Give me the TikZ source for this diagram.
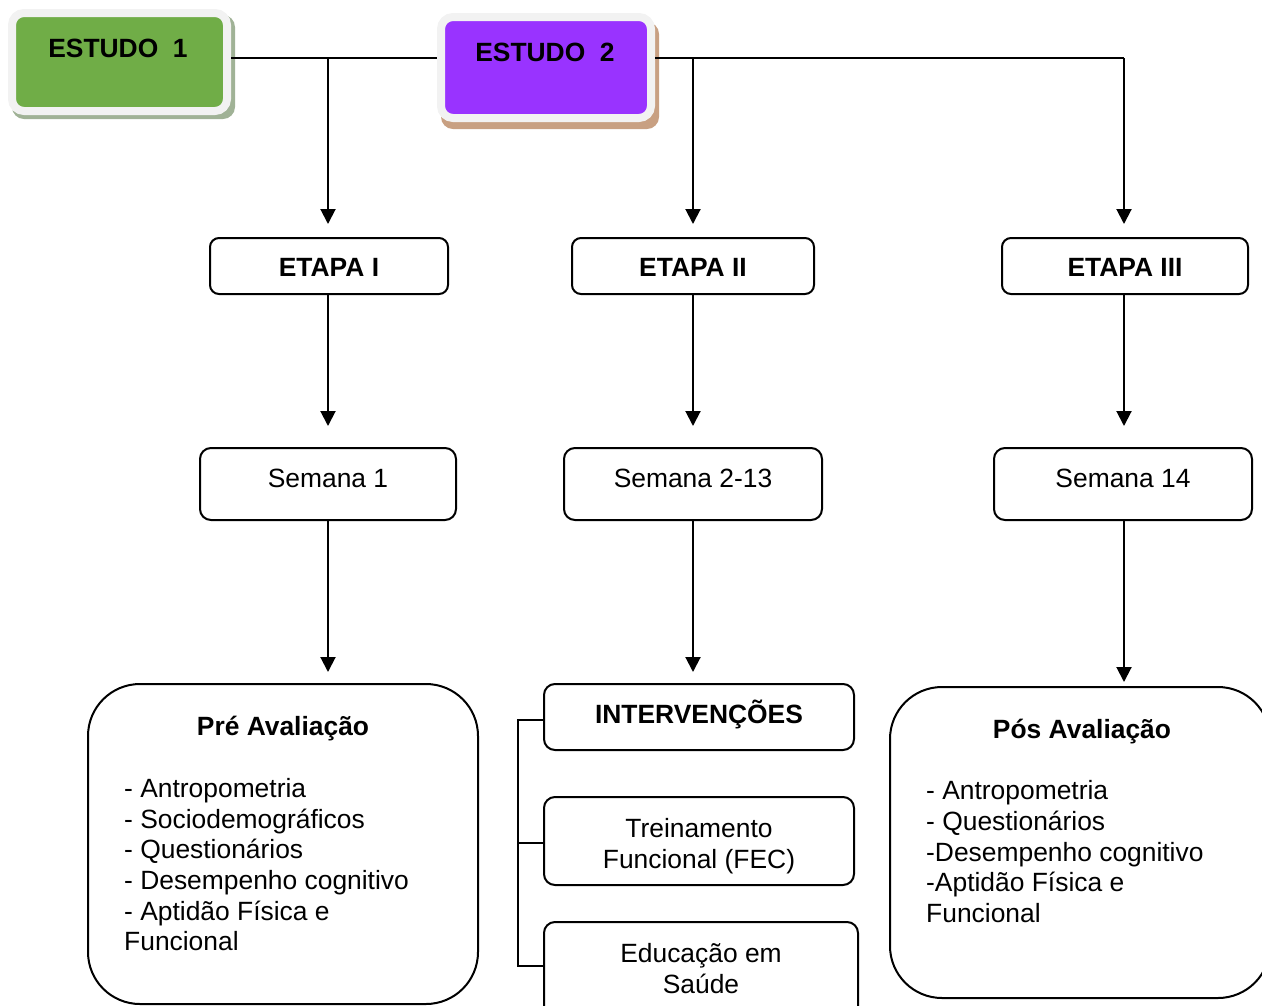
\documentclass[tikz,border=0pt]{standalone}
\usepackage{fontspec}
\setmainfont{Liberation Sans}
\usetikzlibrary{arrows.meta}
\definecolor{estgreen}{RGB}{112,173,71}
\definecolor{estpurple}{RGB}{153,51,255}
\definecolor{shgreen}{RGB}{160,178,150}
\definecolor{shtan}{RGB}{200,160,130}
\definecolor{rimgray}{RGB}{242,242,242}
\tikzset{
  txt/.style={font=\fontsize{26.4}{30.6}\selectfont, inner sep=0pt, anchor=base},
  btxt/.style={txt, font=\fontsize{26.4}{30.6}\selectfont\bfseries},
  ltxt/.style={txt, anchor=base west},
  boxA/.style={draw, line width=2pt, rounded corners=9pt, fill=white},
  boxB/.style={draw, line width=2pt, rounded corners=11pt, fill=white},
  bigbox/.style={draw, line width=2pt, rounded corners=52pt},
  estudo/.style={draw=rimgray, line width=8pt, rounded corners=12pt},
  conn/.style={line width=2pt},
  arr/.style={line width=2pt, -{Triangle[width=15pt,length=15pt]}},
}
\begin{document}
\begin{tikzpicture}[x=1pt,y=-1pt]
\useasboundingbox (0,0) rectangle (1262,1005);
\clip (0,0) rectangle (1262,1005);
% ESTUDO boxes with shadows
\fill[shgreen, rounded corners=12pt] (12,15) rectangle (235,119);
\node[estudo, fill=estgreen, minimum width=215pt, minimum height=98pt] (e1) at (119.5,62) {};
\node[btxt] at (118,57) {ESTUDO\ \ 1};
\fill[shtan, rounded corners=12pt] (441,22) rectangle (659,129);
\node[estudo, fill=estpurple, minimum width=210pt, minimum height=101pt] (e2) at (546,67.5) {};
\node[btxt] at (545,61) {ESTUDO\ \ 2};
% junctions
\coordinate (j1) at (328,58);
\coordinate (j2) at (693,58);
\coordinate (j3) at (1124,58);
% ETAPA boxes
\node[boxA, minimum width=238pt, minimum height=56pt] (t1) at (329,266) {};
\node[btxt] at (329,276) {ETAPA I};
\node[boxA, minimum width=242pt, minimum height=56pt] (t2) at (693,266) {};
\node[btxt] at (693,276) {ETAPA II};
\node[boxA, minimum width=246pt, minimum height=56pt] (t3) at (1125,266) {};
\node[btxt] at (1125,276) {ETAPA III};
% Semana boxes
\node[boxB, minimum width=256pt, minimum height=72pt] (s1) at (328,484) {};
\node[txt] at (328,487) {Semana 1};
\node[boxB, minimum width=258pt, minimum height=72pt] (s2) at (693,484) {};
\node[txt] at (693,487) {Semana 2-13};
\node[boxB, minimum width=258pt, minimum height=72pt] (s3) at (1123,484) {};
\node[txt] at (1123,487) {Semana 14};
% Bottom boxes
\node[bigbox, minimum width=390pt, minimum height=320pt] (pre) at (283,844) {};
\node[btxt] at (283,735) {Pré Avaliação};
\node[ltxt] at (124,797) {- Antropometria};
\node[ltxt] at (124,828) {- Sociodemográficos};
\node[ltxt] at (124,858) {- Questionários};
\node[ltxt] at (124,889) {- Desempenho cognitivo};
\node[ltxt] at (124,920) {- Aptidão Física e};
\node[ltxt] at (124,950) {Funcional};
\node[boxB, minimum width=310pt, minimum height=66pt] (iv) at (699,717) {};
\node[btxt] at (699,723) {INTERVENÇÕES};
\node[boxB, minimum width=310pt, minimum height=88pt] (tf) at (699,841) {};
\node[txt] at (699,837) {Treinamento};
\node[txt] at (699,868) {Funcional (FEC)};
\node[boxB, minimum width=314pt, minimum height=100pt] (ed) at (701,972) {};
\node[txt] at (701,962) {Educação em};
\node[txt] at (701,993) {Saúde};
\node[bigbox, minimum width=380pt, minimum height=311pt] (pos) at (1080,842.5) {};
\node[btxt] at (1082,738) {Pós Avaliação};
\node[ltxt] at (926,799) {- Antropometria};
\node[ltxt] at (926,830) {- Questionários};
\node[ltxt] at (926,861) {-Desempenho cognitivo};
\node[ltxt] at (926,891) {-Aptidão Física e};
\node[ltxt] at (926,922) {Funcional};
% connectors
\draw[conn] (e1.east |- j1) -- (e2.west |- j1);
\draw[conn] (e2.east |- j1) -- (j3);
\draw[arr, shorten >=13pt] (j1) -- (j1 |- t1.north);
\draw[arr, shorten >=13pt] (j2) -- (j2 |- t2.north);
\draw[arr, shorten >=13pt] (j3) -- (j3 |- t3.north);
\draw[arr, shorten >=21pt] (j1 |- t1.south) -- (j1 |- s1.north);
\draw[arr, shorten >=21pt] (j2 |- t2.south) -- (j2 |- s2.north);
\draw[arr, shorten >=21pt] (j3 |- t3.south) -- (j3 |- s3.north);
\draw[arr, shorten >=11pt] (j1 |- s1.south) -- (j1 |- pre.north);
\draw[arr, shorten >=11pt] (j2 |- s2.south) -- (j2 |- iv.north);
\draw[arr, shorten >=4pt] (j3 |- s3.south) -- (j3 |- pos.north);
% bracket
\coordinate (b1) at (518,720);
\coordinate (b2) at (518,966);
\draw[conn] (iv.west |- b1) -- (b1) -- (b2) -- (ed.west |- b2);
\draw[conn] (518,843) -- (tf.west |- 0,843);
\end{tikzpicture}
\end{document}
